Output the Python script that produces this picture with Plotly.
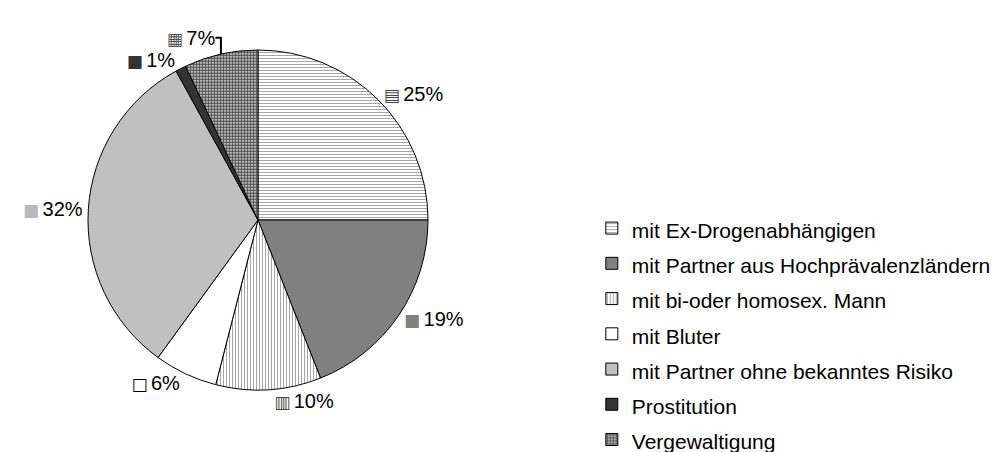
import plotly.graph_objects as go

categories = [
    "mit Ex-Drogenabhängigen",
    "mit Partner aus Hochprävalenzländern",
    "mit bi-oder homosex. Mann",
    "mit Bluter",
    "mit Partner ohne bekanntes Risiko",
    "Prostitution",
    "Vergewaltigung",
]
values = [25, 19, 10, 6, 32, 1, 7]

fill_colors = ["#ffffff", "#808080", "#ffffff", "#ffffff", "#c0c0c0", "#333333", "#ffffff"]
pattern_shapes = ["-", "", "|", "", "", "", "."]
pattern_fg = ["#a6a6a6", "#808080", "#a6a6a6", "#ffffff", "#c0c0c0", "#333333", "#555555"]
label_glyphs = ["▤", "■", "▥", "□", "■", "■", "▦"]
glyph_colors = ["#444444", "#808080", "#444444", "#000000", "#b8b8b8", "#333333", "#555555"]

W, H = 998, 452
cx, cy, r = 258, 220, 170

glyph_text = [
    f"<span style='font-family:DejaVu Sans;font-size:17px;color:{c}'>{g}</span>"
    f"<span style='font-family:DejaVu Sans;font-size:17px'>\u2009</span>"
    for g, c in zip(label_glyphs, glyph_colors)
]
legend_labels = [f"<span style='font-size:21px'>{c}</span>" for c in categories]

fig = go.Figure(
    go.Pie(
        labels=legend_labels,
        values=values,
        text=glyph_text,
        texttemplate="%{text}%{percent}",
        textposition="outside",
        sort=False,
        direction="clockwise",
        rotation=0,
        marker=dict(
            colors=fill_colors,
            line=dict(color="#000000", width=1),
            pattern=dict(
                shape=pattern_shapes,
                fgcolor=pattern_fg,
                bgcolor=fill_colors,
                size=3,
                solidity=[0.35, 0.35, 0.35, 0.35, 0.35, 0.35, 0.75],
                fillmode="replace",
            ),
        ),
        outsidetextfont=dict(family="Liberation Sans, Arial", size=20, color="#000000"),
        domain=dict(x=[(cx - r) / W, (cx + r) / W], y=[(H - cy - r) / H, (H - cy + r) / H]),
        hoverinfo="skip",
    )
)

fig.update_layout(
    width=W,
    height=H,
    margin=dict(l=0, r=0, t=0, b=0, autoexpand=False),
    paper_bgcolor="#ffffff",
    plot_bgcolor="#ffffff",
    font=dict(family="Liberation Sans, Arial", color="#000000"),
    showlegend=True,
    legend=dict(
        x=0.593,
        xanchor="left",
        y=0.5454,
        yanchor="top",
        font=dict(family="Liberation Sans, Arial", size=24.8, color="#000000"),
        bgcolor="rgba(0,0,0,0)",
        borderwidth=0,
    ),
)

fig.write_html(
    "out.html",
    config={"displayModeBar": False},
    post_script="document.body.style.margin='0';document.body.style.overflow='hidden';",
)
